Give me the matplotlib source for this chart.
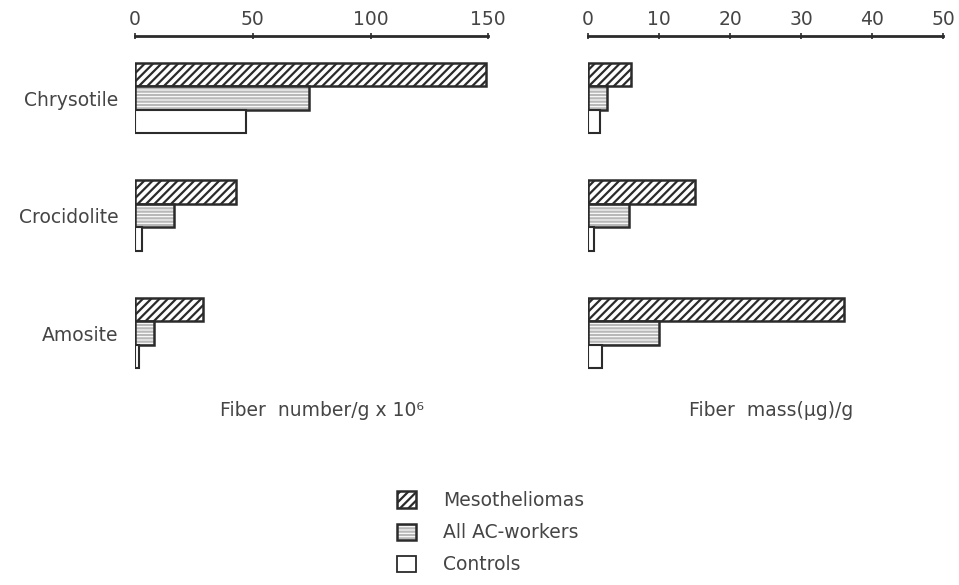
import matplotlib
matplotlib.use("Agg")
import matplotlib.pyplot as plt
from matplotlib.patches import Patch

plt.rcParams['font.family'] = ['DejaVu Sans']
plt.rcParams['hatch.linewidth'] = 1.6

# valores
categories = ['Chrysotile', 'Crocidolite', 'Amosite']
series = ['Mesotheliomas', 'All AC-workers', 'Controls']

number_meso = [149, 43, 29]
number_ac = [74, 16.5, 8]
number_ctrl = [47, 3, 1.5]

mass_meso = [6, 15, 36]
mass_ac = [2.7, 5.8, 10]
mass_ctrl = [1.7, 0.8, 2]

number_ticks = [0, 50, 100, 150]
mass_ticks = [0, 10, 20, 30, 40, 50]

INK = '#2b2b2b'
TXT = '#454545'
LINE_GRAY = '#b8b8b8'
H = 0.2
FS = 13.5

fig = plt.figure(figsize=(9.59, 5.85), dpi=100)
ax1 = fig.add_axes([0.1408, 0.3504, 0.3691, 0.5881])
ax2 = fig.add_axes([0.6131, 0.3504, 0.3712, 0.5881])


def draw_group(ax, meso, ac, ctrl, xmax, ticks):
    ys = list(range(len(categories)))
    # mesoteliomas: hachurado diagonal escuro
    ax.barh([y - H for y in ys], meso, height=H, left=0, color='white',
            edgecolor=INK, hatch='////', linewidth=1.8)
    # trabalhadores: linhas horizontais claras + contorno escuro
    ax.barh(ys, ac, height=H, color='white', edgecolor=LINE_GRAY,
            hatch='-----', linewidth=0)
    ax.barh(ys, ac, height=H, color='none', edgecolor=INK, linewidth=1.8)
    # controles: vazio
    ax.barh([y + H for y in ys], ctrl, height=H, color='white',
            edgecolor=INK, linewidth=1.5)

    ax.set_xlim(0, xmax * 1.002)
    ax.set_ylim(2.4, -0.528)
    ax.xaxis.tick_top()
    ax.set_xticks(ticks)
    ax.set_xticklabels([str(t) for t in ticks])
    ax.tick_params(axis='x', direction='inout', length=5, width=1.2,
                   colors=INK, labelcolor=TXT, labelsize=FS, pad=2.5)
    ax.set_yticks([])
    for s in ['bottom', 'left', 'right']:
        ax.spines[s].set_visible(False)
    ax.spines['top'].set_color(INK)
    ax.spines['top'].set_linewidth(2)
    ax.spines['top'].set_bounds(0, xmax)
    ax.set_facecolor('none')


draw_group(ax1, number_meso, number_ac, number_ctrl, 150, number_ticks)
draw_group(ax2, mass_meso, mass_ac, mass_ctrl, 50, mass_ticks)

ax1.set_yticks(range(len(categories)))
ax1.set_yticklabels(categories)
ax1.tick_params(axis='y', length=0, pad=12, labelsize=FS, labelcolor=TXT)

fig.text(322 / 959, 1 - 411 / 585, 'Fiber  number/g x 10⁶', ha='center',
         va='center', fontsize=FS, color=TXT)
fig.text(771 / 959, 1 - 411 / 585, 'Fiber  mass(μg)/g', ha='center',
         va='center', fontsize=FS, color=TXT)

h_meso = Patch(facecolor='white', edgecolor=INK, hatch='////', linewidth=1.8)
h_ac = (Patch(facecolor='white', edgecolor=LINE_GRAY, hatch='-----', linewidth=0),
        Patch(facecolor='none', edgecolor=INK, linewidth=1.8))
h_ctrl = Patch(facecolor='white', edgecolor=INK, linewidth=1.3)

leg = fig.legend([h_meso, h_ac, h_ctrl], series, loc='upper left',
                 bbox_to_anchor=(397 / 959, 1 - 491 / 585), frameon=False,
                 borderpad=0, borderaxespad=0,
                 fontsize=FS, handlelength=1.0, handleheight=0.95,
                 handletextpad=1.45, labelspacing=0.7)
for t in leg.get_texts():
    t.set_color(TXT)

fig.savefig('out.png', dpi=100, facecolor='white')
